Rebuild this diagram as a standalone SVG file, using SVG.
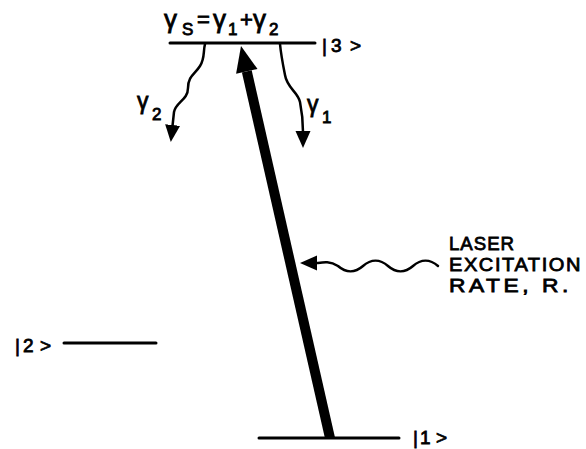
<svg xmlns="http://www.w3.org/2000/svg" width="586" height="449" viewBox="0 0 586 449">
<style>
  .lvl { stroke:#000; stroke-width:3; stroke-linecap:round; fill:none; }
  .wave { stroke:#000; stroke-width:2.5; fill:none; stroke-linecap:round; }
  text { font-family:"Liberation Sans", Arial, sans-serif; fill:#000; stroke:#000; stroke-width:0.8; }
  .lab { font-size:19px; }
  .g { font-size:26px; }
  .sub { font-size:17px; }
  .op { font-size:22px; }
</style>
<defs>
  <marker id="ah" markerUnits="userSpaceOnUse" markerWidth="18" markerHeight="16" viewBox="0 0 18 16" refX="1" refY="8" orient="auto">
    <path d="M0,0.5 L17,8 L0,15.5 Z" fill="#000"/>
  </marker>
</defs>
<rect width="586" height="449" fill="#fff"/>

<g id="level3">
  <line class="lvl" x1="170" y1="43" x2="315" y2="43"/>
  <text class="lab" y="52"><tspan x="322">|</tspan><tspan x="331">3</tspan><tspan x="350">&gt;</tspan></text>
</g>
<g id="gammaS-label">
  <text class="g" y="28"><tspan x="164">γ</tspan><tspan class="sub" x="182" y="35">S</tspan><tspan class="op" x="197" y="27">=</tspan><tspan x="213" y="28">γ</tspan><tspan class="sub" x="228" y="35">1</tspan><tspan class="op" x="240" y="27">+</tspan><tspan x="253" y="28">γ</tspan><tspan class="sub" x="269" y="35">2</tspan></text>
</g>
<g id="level2">
  <line class="lvl" x1="64" y1="343" x2="156" y2="343" stroke-width="3.5"/>
  <text class="lab" y="352"><tspan x="15">|</tspan><tspan x="23">2</tspan><tspan x="40">&gt;</tspan></text>
</g>
<g id="level1">
  <line class="lvl" x1="259" y1="438" x2="399" y2="438"/>
  <text class="lab" y="444"><tspan x="413">|</tspan><tspan x="420">1</tspan><tspan x="436">&gt;</tspan></text>
</g>
<g id="laser-label">
  <text class="lab" x="449" y="250" letter-spacing="1" textLength="66" lengthAdjust="spacingAndGlyphs">LASER</text>
  <text class="lab" x="449" y="271" letter-spacing="1.5" textLength="133" lengthAdjust="spacingAndGlyphs">EXCITATION</text>
  <text class="lab" x="449" y="292" letter-spacing="3" textLength="123" lengthAdjust="spacingAndGlyphs">RATE, R.</text>
</g>
<g id="gamma-labels">
  <text x="137" y="109" style="font-size:23px">γ</text>
  <text class="sub" x="152" y="120">2</text>
  <text x="307" y="112" style="font-size:23px">γ</text>
  <text class="sub" x="322" y="123">1</text>
</g>

<g id="connectors">
  <line x1="330" y1="438" x2="246.8" y2="71.4" stroke="#000" stroke-width="10"/>
  <polygon points="241,46 257.5,69 236.1,73.8" fill="#000"/>
  <path class="wave" d="M205,44 C203,52 205,58 200,66 C195,74 188,76 188,88 C188,100 176,102 174,112 L172.5,126" marker-end="url(#ah)"/>
  <path class="wave" d="M280,44 C281,55 283,65 285,75 C287,88 298,92 300,102 C302,112 303,118 303,132" marker-end="url(#ah)"/>
  <path class="wave" d="M438,266 c-8,-7 -17,-7 -25,0 c-8,7 -17,7 -25,0 c-8,-7 -17,-7 -25,0 c-8,7 -17,7 -25,0 c-8,-5 -14,-4 -20,-3 L316,263" marker-end="url(#ah)"/>
</g>
</svg>
